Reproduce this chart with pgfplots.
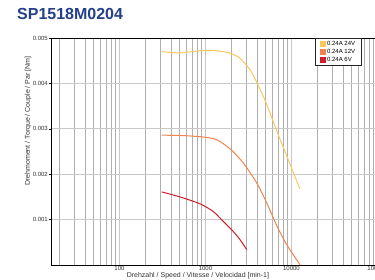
\documentclass[border=0pt]{standalone}
\usepackage{fontspec}
\setmainfont{Liberation Sans}
\usepackage{pgfplots}
\pgfplotsset{compat=1.18}
\definecolor{ttl}{RGB}{36,64,136}
\definecolor{cyel}{RGB}{252,200,92}
\definecolor{cora}{RGB}{240,132,78}
\definecolor{cred}{RGB}{205,32,42}
\definecolor{gridc}{RGB}{175,175,175}
\definecolor{gridm}{RGB}{200,200,200}
\definecolor{txt}{RGB}{50,50,50}
\begin{document}
\begin{tikzpicture}[x=1pt,y=1pt]
\node[anchor=west, font=\fontsize{16}{16}\selectfont\bfseries, text=ttl, inner sep=0pt] at (17pt,266.5pt) {SP1518M0204};
\begin{axis}[
 at={(51pt,15pt)}, anchor=south west,
 scale only axis, width=326.5pt, height=227pt,
 xmode=log, xmin=16, xmax=100000, ymin=0, ymax=0.005,
 xtick={100,1000,10000,100000}, xticklabels={100,1000,10000,100000},
 minor xtick={20,30,40,50,60,70,80,90,200,300,400,500,600,700,800,900,2000,3000,4000,5000,6000,7000,8000,9000,20000,30000,40000,50000,60000,70000,80000,90000},
 ytick={0.001,0.002,0.003,0.004,0.005}, yticklabels={0.001,0.002,0.003,0.004,0.005},
 scaled y ticks=false,
 xmajorgrids=true, xminorgrids=true, ymajorgrids=true,
 major grid style={gridm, line width=0.9pt},
 minor grid style={gridc, line width=0.8pt},
 axis line style={black, line width=0.8pt},
 tick align=outside, major tick length=2pt, minor tick length=0pt,
 xtick style={draw=none}, ytick style={black, line width=0.5pt},
 /pgf/number format/assume math mode=true,
 ticklabel style={font=\fontsize{6}{6}\selectfont, text=txt},
 yticklabel style={inner sep=1pt},
 xticklabel style={inner sep=0.5pt, yshift=1.5pt},
 xlabel={Drehzahl / Speed / Vitesse / Velocidad [min-1]},
 ylabel={Drehmoment / Torque / Couple / Par [Nm]},
 xlabel style={at={(axis description cs:0.45,-0.047)}, anchor=center, font=\fontsize{7}{7}\selectfont, text=txt, inner sep=0pt},
 ylabel style={at={(axis description cs:-0.07,0.634)}, anchor=center, font=\fontsize{7}{7}\selectfont, text=txt, inner sep=0pt},
 legend style={at={(axis description cs:0.8086,1)}, anchor=north west, draw=black!85, line width=0.6pt, fill=white,
   font=\fontsize{6}{6}\selectfont, inner xsep=5pt, inner ysep=1.5pt, row sep=0pt, cells={anchor=west}, nodes={inner sep=1.2pt}},
 legend image code/.code={\fill[#1] (0pt,-2.3pt) rectangle (4.6pt,2.3pt);},
]
\addplot[cyel, line width=1pt, smooth, tension=0.4] coordinates {
(310,0.00470) (500,0.00467) (860,0.00472) (1350,0.00472) (1900,0.00467) (2500,0.00456) (3300,0.00430) (4000,0.00400) (5000,0.00360) (6600,0.00300) (8400,0.00250) (12500,0.00168)};
\addlegendentry{0.24A 24V\hspace{28pt}}
\addplot[cora, line width=1pt, smooth, tension=0.4] coordinates {
(310,0.00286) (550,0.00285) (940,0.00282) (1350,0.00276) (1930,0.00256) (2750,0.00225) (3940,0.00181) (5150,0.00137) (6730,0.00087) (8790,0.00045) (12600,0.0)};
\addlegendentry{0.24A 12V\hspace{28pt}}
\addplot[cred, line width=1pt, smooth, tension=0.4] coordinates {
(310,0.00161) (505,0.00150) (860,0.00135) (1230,0.00118) (1610,0.00096) (2100,0.00074) (2520,0.00056) (3010,0.00034)};
\addlegendentry{0.24A 6V\hspace{28pt}}
\end{axis}
\pgfresetboundingbox
\useasboundingbox (0,0) rectangle (375pt,280pt);
\end{tikzpicture}
\end{document}
